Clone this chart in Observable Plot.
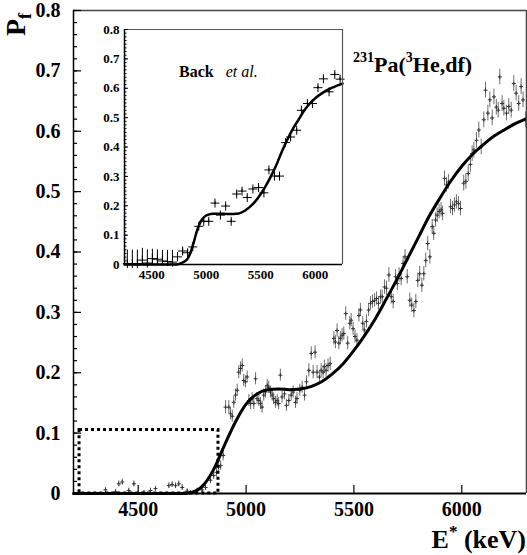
<!DOCTYPE html>
<html><head><meta charset="utf-8">
<script src="https://cdn.jsdelivr.net/npm/d3@7"></script>
<script src="https://cdn.jsdelivr.net/npm/@observablehq/plot@0.6"></script>
<style>
html,body{margin:0;padding:0;background:#fff;}
#wrap{position:relative;width:527px;height:555px;overflow:hidden;background:#fff;}
#wrap svg{position:absolute;}
</style></head><body><div id="wrap"></div>
<script>
const FONT = '"Liberation Serif","DejaVu Serif","Times New Roman",serif';

// ---- main data (E* in keV, fission probability, error) ----
const mainE = [4348,4395,4410,4426,4456,4480,4527,4557,4580,4642,4657,4673,4688,4704,4727,4742,4773,4796,4812,4835,4850,4863,4872,4882,4894,
4905,4920,4928,4936,4943,4951,4959,4966,4974,4982,4989,4997,5005,5013,5021,5028,5036,5044,5051,5059,5067,5074,5082,5090,5098,5105,5113,5121,5128,5136,5144,5151,5159,5167,
5178,5187,5198,5209,5218,5229,5236,5249,5260,5271,5280,5291,5302,5311,5320,5329,5340,5348,5357,5363,5371,5380,5390,5407,5414,5422,5430,5437,5445,5453,5462,5471,5481,5487,5496,5505,5514,5523,5530,5541,5548,5558,5568,5577,5586,5596,5605,5614,5623,
5631,5642,5651,5662,5673,5682,5693,5701,5709,5719,5728,5737,5747,5759,5768,5778,5787,5796,5805,5815,5824,5833,5842,5852,5863,5870,5878,5886,5895,5904,5911,5920,5929,5938,5948,5957,5966,5975,5985,5994,
6009,6019,6030,6040,6048,6056,6068,6079,6090,6102,6110,6121,6130,6141,6149,6160,6169,6176,6187,6195,6207,6218,6229,6241,6252,6264,6275,6284,6295];
const mainP = [0.006,0.003,0.016,0.019,0.005,0.016,0.002,0.005,0.008,0.013,0.015,0.013,0.016,0.010,0.004,0.002,0.005,0.006,0.010,0.022,0.030,0.035,0.044,0.046,0.063,
0.143,0.143,0.132,0.128,0.151,0.163,0.171,0.201,0.207,0.212,0.187,0.185,0.193,0.154,0.149,0.157,0.149,0.190,0.157,0.154,0.149,0.143,0.163,0.168,0.179,0.176,0.168,0.163,0.157,0.151,0.154,0.149,0.196,0.160,
0.165,0.146,0.154,0.163,0.168,0.151,0.157,0.171,0.176,0.163,0.185,0.204,0.232,0.201,0.234,0.201,0.193,0.204,0.201,0.210,0.204,0.212,0.215,0.257,0.251,0.270,0.249,0.257,0.262,0.265,0.298,0.249,0.282,0.287,0.273,0.260,0.254,0.295,0.304,0.282,0.271,0.285,0.304,0.315,0.318,0.320,0.323,0.315,0.326,
0.326,0.342,0.340,0.362,0.326,0.318,0.359,0.348,0.362,0.356,0.381,0.392,0.359,0.320,0.312,0.303,0.318,0.353,0.364,0.345,0.364,0.386,0.414,0.392,0.442,0.431,0.453,0.461,0.467,0.470,0.464,0.522,0.511,0.516,0.475,0.472,0.478,0.483,0.480,0.472,
0.514,0.517,0.530,0.545,0.563,0.569,0.585,0.602,0.574,0.619,0.668,0.630,0.652,0.622,0.657,0.640,0.635,0.690,0.646,0.638,0.630,0.641,0.635,0.679,0.663,0.646,0.674,0.652,0.619];
const mainErr = [0.004,0.004,0.005,0.005,0.004,0.005,0.003,0.004,0.004,0.005,0.005,0.005,0.005,0.005,0.004,0.003,0.004,0.004,0.005,0.006,0.007,0.008,0.008,0.008,0.009,
0.011,0.011,0.010,0.010,0.010,0.010,0.010,0.011,0.011,0.011,0.010,0.010,0.010,0.010,0.010,0.010,0.010,0.010,0.010,0.010,0.010,0.010,0.010,0.010,0.010,0.010,0.010,0.010,0.010,0.010,0.010,0.010,0.010,0.010,
0.010,0.010,0.010,0.010,0.010,0.010,0.010,0.010,0.010,0.010,0.010,0.011,0.011,0.011,0.011,0.011,0.011,0.011,0.011,0.011,0.011,0.011,0.011,0.011,0.011,0.011,0.011,0.011,0.011,0.011,0.011,0.011,0.011,0.011,0.011,0.011,0.011,0.011,0.011,0.011,0.011,0.011,0.011,0.011,0.011,0.011,0.011,0.011,0.011,
0.011,0.012,0.012,0.012,0.012,0.012,0.012,0.012,0.012,0.012,0.012,0.012,0.012,0.012,0.012,0.012,0.012,0.012,0.012,0.012,0.012,0.012,0.012,0.012,0.012,0.012,0.012,0.012,0.012,0.012,0.012,0.012,0.012,0.012,0.012,0.012,0.012,0.012,0.012,0.012,
0.013,0.013,0.013,0.013,0.013,0.013,0.013,0.013,0.013,0.013,0.013,0.013,0.013,0.013,0.013,0.013,0.013,0.013,0.013,0.013,0.013,0.013,0.013,0.013,0.013,0.013,0.013,0.013,0.013];

// ---- main calculated curve ----
const curveE = [4200,4700,4750,4800,4850,4900,4950,5000,5050,5100,5150,5200,5250,5300,5350,5400,5450,5500,5550,5600,5650,5700,5750,5800,5850,5900,5950,6000,6050,6100,6150,6200,6250,6300];
const curveP = [0,0,0.002,0.013,0.040,0.080,0.118,0.148,0.165,0.172,0.173,0.172,0.173,0.177,0.185,0.198,0.215,0.237,0.262,0.290,0.322,0.355,0.390,0.425,0.460,0.490,0.518,0.542,0.562,0.578,0.592,0.603,0.613,0.621];

// ---- inset (Back et al.) ----
const insetE = [4276,4322,4368,4414,4460,4506,4552,4598,4644,4690,4736,4783,4829,4876,4931,4977,5023,5080,5130,5178,5229,5279,5328,5376,5428,5480,5529,5575,5626,5672,5728,5774,5830,5873,5928,5974,6025,6075,6127,6179,6228];
const insetP = [0.003,0.003,0.003,0.015,0.005,0.020,0.018,0.012,0.010,0.008,0.026,0.046,0.040,0.060,0.130,0.147,0.147,0.209,0.168,0.199,0.147,0.240,0.250,0.228,0.257,0.262,0.244,0.322,0.301,0.301,0.415,0.434,0.457,0.525,0.548,0.548,0.602,0.632,0.588,0.647,0.631];
const insetErr = [0.046,0.046,0.046,0.040,0.045,0.032,0.032,0.036,0.038,0.040,0.014,0.010,0.008,0.008,0.005,0.005,0.005,0.005,0.005,0.005,0.005,0.005,0.005,0.005,0.005,0.005,0.005,0.005,0.005,0.005,0.005,0.005,0.005,0.005,0.005,0.005,0.005,0.005,0.005,0.005,0.005];
const insetCurveE = [4250,4700,4750,4800,4830,4860,4885,4907,4930,4955,4985,5020,5060,5100,5200,5300,5350,5400,5450,5500,5550,5600,5650,5700,5750,5800,5850,5900,5950,6000,6050,6100,6150,6200,6250];
const insetCurveP = [0,0,0.002,0.010,0.020,0.045,0.075,0.105,0.130,0.150,0.163,0.170,0.173,0.173,0.172,0.174,0.182,0.196,0.215,0.240,0.270,0.305,0.345,0.390,0.430,0.465,0.495,0.525,0.548,0.566,0.580,0.592,0.601,0.609,0.616];

// ---- axes ----
const yTicks = [0,0.1,0.2,0.3,0.4,0.5,0.6,0.7,0.8];
const yTickLabels = ["0","0.1","0.2","0.3","0.4","0.5","0.6","0.7","0.8"];
const yMinor = d3.range(0, 0.801, 0.02);
const insetYMinor = d3.range(0, 0.801, 0.0125);
const xTicks = [4500,5000,5500,6000];
const zoomBoxE = [4228, 4872];
const zoomBoxP = [0, 0.105];

const fmtY = d => yTickLabels[yTicks.findIndex(t => Math.abs(t - d) < 1e-9)];

const mainData = mainE.map((e, i) => ({e, p: mainP[i], lo: mainP[i] - mainErr[i], hi: mainP[i] + mainErr[i]}));
const curve = curveE.map((e, i) => ({e, p: curveP[i]}));
const insetData = insetE.map((e, i) => ({e, p: insetP[i], lo: Math.max(0, insetP[i] - insetErr[i]), hi: insetP[i] + insetErr[i]}));
const insetCurve = insetCurveE.map((e, i) => ({e, p: insetCurveP[i]}));

const main = Plot.plot({
  width: 527, height: 555,
  marginLeft: 73, marginTop: 10, marginRight: 1, marginBottom: 62,
  x: {domain: [4200, 6300]},
  y: {domain: [0, 0.8]},
  style: {fontFamily: FONT, background: "transparent", overflow: "visible", color: "black"},
  marks: [
    Plot.ruleX(mainData, {x: "e", y1: "lo", y2: "hi", stroke: "#6e6e6e", strokeWidth: 1}),
    Plot.dot(mainData, {x: "e", y: "p", symbol: "plus", r: 1.4, stroke: "#333", strokeWidth: 1}),
    Plot.line(curve, {x: "e", y: "p", curve: "monotone-x", stroke: "black", strokeWidth: 3}),
    Plot.rect([{x1: zoomBoxE[0], x2: zoomBoxE[1], y1: zoomBoxP[0], y2: zoomBoxP[1]}],
      {x1: "x1", x2: "x2", y1: "y1", y2: "y2", fill: "none", stroke: "black", strokeWidth: 3, strokeDasharray: "3,3"}),
    Plot.ruleY([0.8], {stroke: "#444", strokeWidth: 1.5}),
    Plot.ruleX([6300], {stroke: "#444", strokeWidth: 1.5}),
    Plot.axisY(yMinor, {tickSize: 4, dx: 4, fill: "none", label: null, strokeWidth: 1.2}),
    Plot.axisY(yTicks, {tickSize: 8, dx: 8, fill: "none", label: null, strokeWidth: 1.2}),
    Plot.axisY(yTicks, {tickSize: 0, tickPadding: 13, tickFormat: fmtY, fontSize: 20, fontWeight: "bold", label: null}),
    Plot.axisX(xTicks, {tickSize: 8, dy: -8, fill: "none", label: null, strokeWidth: 1.2}),
    Plot.axisX(xTicks, {tickSize: 0, tickPadding: 8, tickFormat: d => String(d), fontSize: 20, fontWeight: "bold", label: null}),
    Plot.ruleX([4200], {stroke: "black", strokeWidth: 1.5}),
    Plot.ruleY([0], {stroke: "black", strokeWidth: 2})
  ]
});
main.style.left = "0px"; main.style.top = "0px";

const inset = Plot.plot({
  width: 260, height: 279,
  marginLeft: 40, marginTop: 20, marginRight: 2, marginBottom: 24,
  x: {domain: [4250, 6250]},
  y: {domain: [0, 0.8]},
  style: {fontFamily: FONT, background: "transparent", overflow: "visible", color: "black"},
  marks: [
    Plot.ruleX(insetData, {x: "e", y1: "lo", y2: "hi", stroke: "black", strokeWidth: 1}),
    Plot.dot(insetData, {x: "e", y: "p", symbol: "plus", r: 3, stroke: "black", strokeWidth: 1}),
    Plot.line(insetCurve, {x: "e", y: "p", curve: "monotone-x", stroke: "black", strokeWidth: 2.5}),
    Plot.ruleY([0.8], {stroke: "#555", strokeWidth: 1.2}),
    Plot.ruleX([6250], {stroke: "#555", strokeWidth: 1.2}),
    Plot.axisY(insetYMinor, {tickSize: 2.5, dx: 2.5, fill: "none", label: null, strokeWidth: 1}),
    Plot.axisY(yTicks, {tickSize: 4, dx: 4, fill: "none", label: null, strokeWidth: 1}),
    Plot.axisY(yTicks, {tickSize: 0, tickPadding: 5, tickFormat: fmtY, fontSize: 13, fontWeight: "bold", label: null}),
    Plot.axisX(xTicks, {tickSize: 0, tickPadding: 5, tickFormat: d => String(d), fontSize: 13, fontWeight: "bold", label: null}),
    Plot.ruleX([4250], {stroke: "black", strokeWidth: 1.5}),
    Plot.ruleY([0], {stroke: "black", strokeWidth: 1.5})
  ]
});
inset.style.left = "84px"; inset.style.top = "9px";

const wrap = document.getElementById("wrap");
wrap.appendChild(main);
wrap.appendChild(inset);

// ---- annotations ----
const sm = d3.select(main);
const g = sm.append("g").attr("font-family", FONT).attr("font-weight", "bold").attr("fill", "black").attr("text-anchor", "start");

// y label P_f
const pf = g.append("text").attr("text-anchor", "start").attr("transform", "translate(25,36) rotate(-90)").attr("font-size", 28);
pf.append("tspan").text("P");
pf.append("tspan").attr("dy", 6).attr("font-size", 18).text("f");

// x label E* (keV)
const ex = g.append("text").attr("x", 526).attr("y", 548).attr("text-anchor", "end").attr("font-size", 26);
ex.append("tspan").text("E");
ex.append("tspan").attr("dy", -11).attr("font-size", 17).text("*");
ex.append("tspan").attr("dy", 11).text(" (keV)");

// reaction label
const rx = g.append("text").attr("text-anchor", "start").attr("x", 353).attr("y", 72).attr("font-size", 22);
rx.append("tspan").attr("dy", -10).attr("font-size", 14).text("231");
rx.append("tspan").attr("dy", 10).text("Pa(");
rx.append("tspan").attr("dy", -10).attr("font-size", 14).text("3");
rx.append("tspan").attr("dy", 10).text("He,df)");

// inset label
const si = d3.select(inset);
const bt = si.append("text").attr("text-anchor", "start").attr("font-family", FONT).attr("x", 95).attr("y", 68).attr("font-size", 16).attr("fill", "black");
bt.append("tspan").attr("font-weight", "bold").text("Back");
bt.append("tspan").attr("dx", 12).attr("font-style", "italic").text("et al.");
</script>
</body></html>
